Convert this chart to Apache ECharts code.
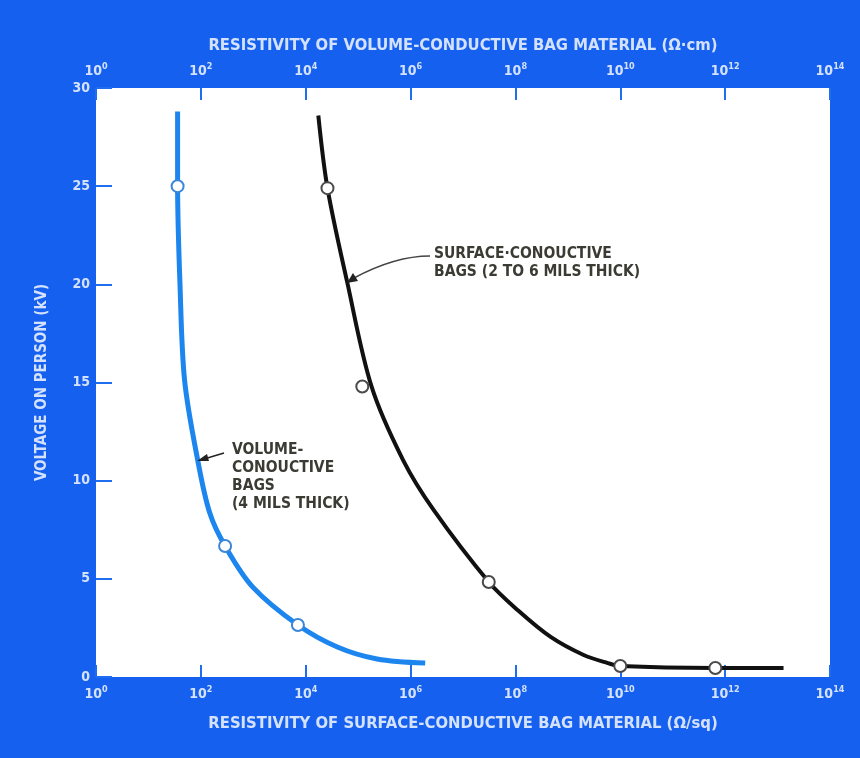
<!DOCTYPE html>
<html>
<head>
<meta charset="utf-8">
<title>Voltage on person vs bag resistivity</title>
<script src="https://cdn.jsdelivr.net/npm/echarts@6/dist/echarts.min.js"></script>
<style>
  html, body { margin: 0; padding: 0; background: #1560ee; }
  #main { width: 860px; height: 758px; }
</style>
</head>
<body>
<div id="main"></div>
<script>
// volume-conductive bags (top axis, ohm-cm) : [resistivity, kV]
var volumeCurve = [[36, 28.8], [36, 25], [40, 20], [49, 15.1], [87, 11.05], [148, 8.35], [290, 6.67],
                   [980, 4.58], [7100, 2.65], [4.0e4, 1.53], [2.3e5, 0.92], [1.9e6, 0.71]];
var volumePoints = [[36, 25], [290, 6.67], [7100, 2.65]];

// surface-conductive bags (bottom axis, ohm/sq)
var surfaceCurve = [[1.74e4, 28.6], [2.6e4, 24.9], [6.2e4, 20.1], [1.8e5, 14.8], [7.2e5, 11.05],
                    [2.75e6, 8.51], [3.1e7, 4.84], [1.1e8, 3.41], [4.7e8, 2.04],
                    [2.0e9, 1.12], [5.8e9, 0.71], [1e10, 0.56], [6.5e11, 0.46], [1.3e13, 0.46]];
var surfacePoints = [[2.6e4, 24.9], [1.2e5, 14.8], [3.1e7, 4.84], [1e10, 0.56], [6.5e11, 0.46]];

var xMin = 1, xMax = 1e14;
var yMin = 0, yMax = 30, yStep = 5;

var FONT = "'DejaVu Sans Condensed', 'Liberation Sans Narrow', sans-serif";
var LIGHT = '#d4e2ff';
var TICK = '#1f6ef0';
var INK = '#3b3b34';

var richPow = {
    b: { fontFamily: FONT, fontWeight: 'bold', fontSize: 14, color: LIGHT, lineHeight: 18 },
    s: { fontFamily: FONT, fontWeight: 'bold', fontSize: 9, color: LIGHT, lineHeight: 10, verticalAlign: 'top' }
};
function powLabel(v) {
    var e = Math.round(Math.log10(v));
    return '{b|10}{s|' + e + '}';
}

function logAxis(pos, name, gap) {
    return {
        type: 'log', logBase: 10, min: xMin, max: xMax, interval: 2,
        position: pos,
        name: name, nameLocation: 'middle', nameGap: gap,
        nameTextStyle: { fontFamily: FONT, fontWeight: 'bold', fontSize: 16.5, color: LIGHT },
        axisLine: { show: false },
        axisTick: { show: true, inside: true, length: 12, lineStyle: { color: TICK, width: 2 } },
        minorTick: { show: false },
        splitLine: { show: false },
        axisLabel: { margin: 8, formatter: powLabel, rich: richPow }
    };
}

var chart = echarts.init(document.getElementById('main'));
var option = {
    backgroundColor: '#1560ee',
    animation: false,
    grid: { left: 96, right: 30, top: 88, bottom: 81, show: true, backgroundColor: '#ffffff', borderWidth: 0 },
    xAxis: [
        logAxis('bottom', 'RESISTIVITY OF SURFACE-CONDUCTIVE BAG MATERIAL (Ω/sq)', 38),
        logAxis('top', 'RESISTIVITY OF VOLUME-CONDUCTIVE BAG MATERIAL (Ω·cm)', 34)
    ],
    yAxis: {
        type: 'value', min: yMin, max: yMax, interval: yStep,
        name: 'VOLTAGE ON PERSON (kV)', nameLocation: 'middle', nameGap: 46,
        nameTextStyle: { fontFamily: FONT, fontWeight: 'bold', fontSize: 15, color: LIGHT },
        axisLine: { show: false },
        axisTick: { show: true, inside: true, length: 16, lineStyle: { color: TICK, width: 2 } },
        splitLine: { show: false },
        axisLabel: { margin: 6, fontFamily: FONT, fontWeight: 'bold', fontSize: 14, color: LIGHT }
    },
    series: [
        {
            type: 'line', xAxisIndex: 1, data: volumeCurve, smooth: 0.33,
            showSymbol: false, lineStyle: { color: '#1d86ee', width: 5 }, z: 2
        },
        {
            type: 'scatter', xAxisIndex: 1, data: volumePoints, symbol: 'circle', symbolSize: 12,
            itemStyle: { color: '#ffffff', opacity: 1, borderColor: '#3a86d8', borderWidth: 2 }, z: 3
        },
        {
            type: 'line', xAxisIndex: 0, data: surfaceCurve, smooth: 0.33,
            showSymbol: false, lineStyle: { color: '#111111', width: 4 }, z: 2
        },
        {
            type: 'scatter', xAxisIndex: 0, data: surfacePoints, symbol: 'circle', symbolSize: 12,
            itemStyle: { color: '#ffffff', opacity: 1, borderColor: '#4a4a4a', borderWidth: 2 }, z: 3
        }
    ],
    graphic: [
        {
            type: 'text', left: 232, top: 441, z: 10,
            style: {
                text: 'VOLUME-\nCONOUCTIVE\nBAGS\n(4 MILS THICK)',
                font: 'bold 15.5px ' + FONT, fill: INK, lineHeight: 18
            }
        },
        {
            type: 'text', left: 434, top: 245, z: 10,
            style: {
                text: 'SURFACE·CONOUCTIVE\nBAGS (2 TO 6 MILS THICK)',
                font: 'bold 15.5px ' + FONT, fill: INK, lineHeight: 18
            }
        },
        {
            type: 'line', z: 10,
            shape: { x1: 224, y1: 453, x2: 204, y2: 459 },
            style: { stroke: '#222', lineWidth: 1.5 }
        },
        {
            type: 'polygon', z: 10,
            shape: { points: [[197, 461], [207, 454], [209, 461]] },
            style: { fill: '#222' }
        },
        {
            type: 'bezierCurve', z: 10,
            shape: { x1: 430, y1: 256, cpx1: 395, cpy1: 256, x2: 354, y2: 278 },
            style: { stroke: '#444', lineWidth: 1.5, fill: null }
        },
        {
            type: 'polygon', z: 10,
            shape: { points: [[347, 283], [353, 273], [358, 281]] },
            style: { fill: '#222' }
        }
    ]
};
chart.setOption(option);
</script>
</body>
</html>
